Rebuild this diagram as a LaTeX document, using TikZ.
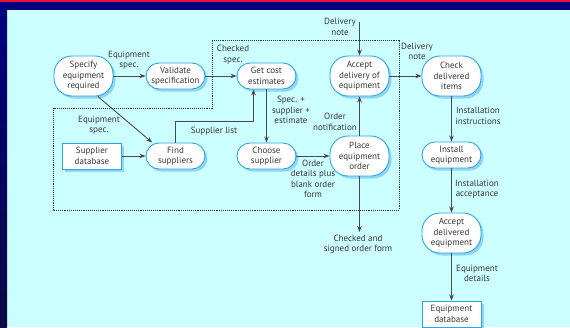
\documentclass[tikz,border=0pt]{standalone}
\usepackage{fontspec}
\setmainfont{PT Sans}
\usetikzlibrary{arrows.meta,shadows,calc}
\definecolor{bgcyan}{HTML}{CCFFFF}
\definecolor{navy}{HTML}{00007E}
\definecolor{darknavy}{HTML}{0A0A44}
\definecolor{topred}{HTML}{F0103A}
\definecolor{nodeblue}{HTML}{2AA6E6}
\definecolor{shadowblue}{HTML}{8ED6F2}
\definecolor{txt}{HTML}{383838}
\definecolor{linegray}{HTML}{4A4A4A}
\begin{document}
\begin{tikzpicture}[x=1pt,y=-1pt,
  every node/.style={font=\fontsize{9}{10.5}\selectfont, text=txt, align=center},
  proc/.style={draw=nodeblue, line width=0.9pt, fill=white, rounded corners=13pt,
    minimum width=59pt, minimum height=26pt, inner sep=1pt,
    drop shadow={shadow xshift=2.5pt, shadow yshift=-2.5pt, fill=shadowblue, opacity=1}},
  tallproc/.style={proc, minimum height=40pt, rounded corners=18pt},
  store/.style={draw=nodeblue, line width=0.9pt, fill=white,
    minimum width=59pt, minimum height=26pt, inner sep=1pt,
    drop shadow={shadow xshift=2.5pt, shadow yshift=-2.5pt, fill=shadowblue, opacity=1}},
  arr/.style={draw=linegray, line width=0.9pt, -{Stealth[length=6pt,width=4.5pt,fill=black]}},
  lbl/.style={inner sep=0pt}
]
\useasboundingbox (0,0) rectangle (570,327);
\fill[bgcyan] (0,0) rectangle (570,327);
\fill[navy] (0,0) rectangle (570,10);
\fill[topred] (0,0) rectangle (570,2);
\shade[top color=navy, bottom color=darknavy] (0,10) rectangle (7,327);

% dotted frame
\draw[densely dotted, line width=0.9pt, black!80] (212,40) -- (399,40) -- (399,210) -- (53,210) -- (53,108) -- (212,108) -- cycle;

% nodes
\node[tallproc] (spec) at (83.5,76) {Specify\\equipment\\required};
\node[proc] (val) at (175.5,76) {Validate\\specification};
\node[proc] (cost) at (266.5,76) {Get cost\\estimates};
\node[tallproc] (acc) at (359.5,76) {Accept\\delivery of\\equipment};
\node[tallproc] (check) at (451.5,76) {Check\\delivered\\items};
\node[store] (sdb) at (92,156) {Supplier\\database};
\node[proc] (find) at (175.5,156) {Find\\suppliers};
\node[proc] (choose) at (266.5,156) {Choose\\supplier};
\node[tallproc] (place) at (359.5,156) {Place\\equipment\\order};
\node[proc] (inst) at (451.5,155) {Install\\equipment};
\node[tallproc] (accdel) at (451.5,233) {Accept\\delivered\\equipment};
\node[store] (edb) at (451.5,314) {Equipment\\database};

\coordinate (dnin) at (359.5,22);
\coordinate (signed) at (359.5,232);

% connectors
\draw[arr] (spec) -- (val);
\draw[arr] (val) -- (cost);
\draw[arr] (spec.-55) -- (find.150);
\draw[arr] (sdb) -- (find);
\draw[arr] (find.north) -- ++(0,-21) -| ([xshift=-13pt]cost.south);
\draw[arr] (cost) -- (choose);
\draw[arr] (choose) -- (place);
\draw[arr] (place) -- (acc);
\draw[arr] (dnin) -- (acc);
\draw[arr] (acc) -- (check);
\draw[arr] (check) -- (inst);
\draw[arr] (inst) -- (accdel);
\draw[arr] (accdel) -- (edb);
\draw[arr] (place) -- (signed);

% labels
\node[lbl] (l1) at (129,60) {Equipment\\spec.};
\node[lbl] (l2) at (233,54.5) {Checked\\spec.};
\node[lbl] (l3) at (99,125) {Equipment\\spec.};
\node[lbl] (l4) at (214,131) {Supplier list};
\node[lbl] (l5) at (291,110) {Spec. +\\supplier +\\estimate};
\node[lbl] (l6) at (335,122) {Order\\notification};
\node[lbl] (l7) at (313,179) {Order\\details plus\\blank order\\form};
\node[lbl] (l8) at (340,27) {Delivery\\note};
\node[lbl] (l9) at (417,51.5) {Delivery\\note};
\node[lbl] (l10) at (478,116) {Installation\\instructions};
\node[lbl] (l11) at (477,189) {Installation\\acceptance};
\node[lbl] (l12) at (477,273.5) {Equipment\\details};
\node[lbl] (l13) at (358,244) {Checked and\\signed order form};
\end{tikzpicture}
\end{document}
